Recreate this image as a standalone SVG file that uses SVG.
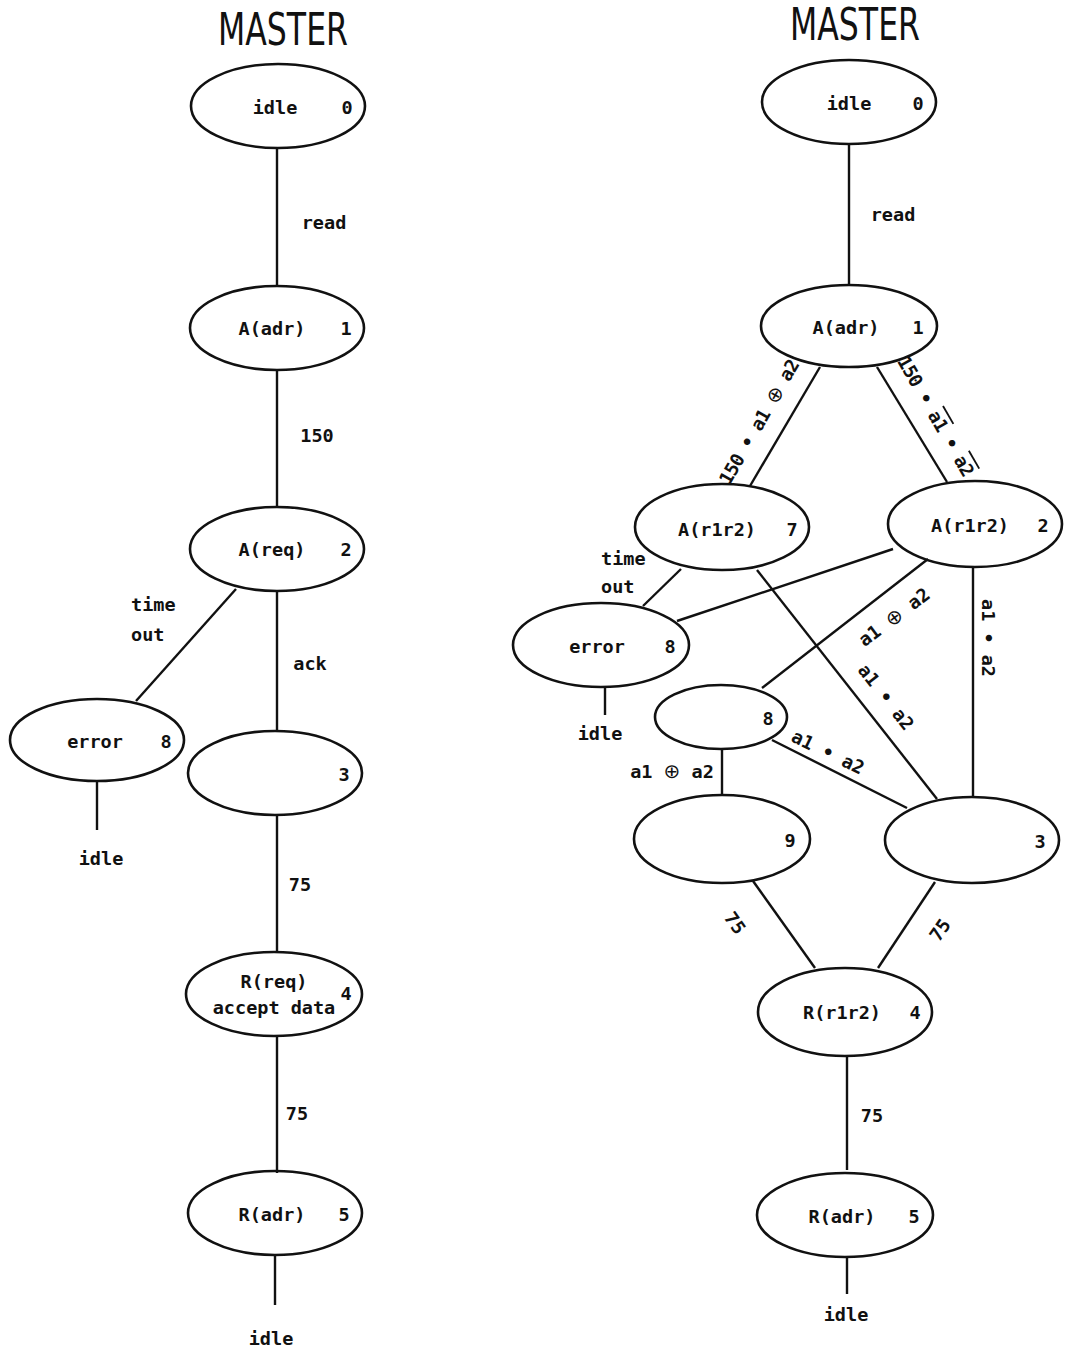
<svg xmlns="http://www.w3.org/2000/svg" width="1070" height="1355" viewBox="0 0 1070 1355">
<style>
.n{fill:none;stroke:#111;stroke-width:2.6}
.e{stroke:#111;stroke-width:2.4;fill:none}
text{font-family:"DejaVu Sans Mono","Liberation Mono",monospace;font-weight:bold;font-size:18.5px;fill:#111;dominant-baseline:central}
.c{text-anchor:middle}
.x{font-family:"DejaVu Sans",sans-serif;font-size:20px;font-weight:normal}
.r{letter-spacing:-0.8px}
.t{font-family:"DejaVu Sans Condensed","DejaVu Sans","Liberation Sans",sans-serif;font-weight:normal;font-size:44px;dominant-baseline:auto}
</style>
<rect width="1070" height="1355" fill="#fff"/>
<text class="t" x="218" y="45" textLength="130" lengthAdjust="spacingAndGlyphs">MASTER</text>
<text class="t" x="790" y="40" textLength="130" lengthAdjust="spacingAndGlyphs">MASTER</text>
<g id="connectors">
<line class="e" x1="277" y1="148" x2="277" y2="286"/>
<line class="e" x1="277" y1="370" x2="277" y2="507"/>
<line class="e" x1="236" y1="589" x2="136" y2="701"/>
<line class="e" x1="277" y1="591" x2="277" y2="731"/>
<line class="e" x1="97" y1="782" x2="97" y2="830"/>
<line class="e" x1="277" y1="815" x2="277" y2="952"/>
<line class="e" x1="277" y1="1036" x2="277" y2="1173"/>
<line class="e" x1="275" y1="1255" x2="275" y2="1305"/>
<line class="e" x1="849" y1="144" x2="849" y2="285"/>
<line class="e" x1="820" y1="367" x2="750" y2="486"/>
<line class="e" x1="877" y1="367" x2="947" y2="482"/>
<line class="e" x1="681" y1="569" x2="643" y2="606"/>
<line class="e" x1="893" y1="549" x2="677" y2="621"/>
<line class="e" x1="757" y1="570" x2="937" y2="799"/>
<line class="e" x1="928" y1="559" x2="762" y2="688"/>
<line class="e" x1="973" y1="567" x2="973" y2="797"/>
<line class="e" x1="605" y1="687" x2="605" y2="715"/>
<line class="e" x1="772" y1="740" x2="907" y2="808"/>
<line class="e" x1="722" y1="749" x2="722" y2="795"/>
<line class="e" x1="753" y1="881" x2="815" y2="968"/>
<line class="e" x1="935" y1="882" x2="878" y2="968"/>
<line class="e" x1="847" y1="1056" x2="847" y2="1170"/>
<line class="e" x1="847" y1="1257" x2="847" y2="1294"/>
<text x="324" y="222" class="c">read</text>
<text x="317" y="435" class="c">150</text>
<text x="131" y="604">time</text>
<text x="131" y="634">out</text>
<text x="310" y="663" class="c">ack</text>
<text x="101" y="858" class="c">idle</text>
<text x="300" y="884" class="c">75</text>
<text x="297" y="1113" class="c">75</text>
<text x="271" y="1338" class="c">idle</text>
<text x="893" y="214" class="c">read</text>
<text class="c r" transform="translate(759,422) rotate(-60)">150 • a1 <tspan class="x">⊕</tspan> a2</text>
<text class="c r" transform="translate(936,416) rotate(60)">150 • <tspan text-decoration="overline">a1</tspan> • <tspan text-decoration="overline">a2</tspan></text>
<text x="601" y="558">time</text>
<text x="601" y="586">out</text>
<text class="c" transform="translate(894,617) rotate(-37)">a1 <tspan class="x">⊕</tspan> a2</text>
<text class="c" transform="translate(988,638) rotate(90)">a1 • a2</text>
<text class="c" transform="translate(886,697) rotate(52)">a1 • a2</text>
<text class="c" transform="translate(828,752) rotate(26)">a1 • a2</text>
<text x="600" y="733" class="c">idle</text>
<text x="672" y="771" class="c">a1 <tspan class="x">⊕</tspan> a2</text>
<text class="c" transform="translate(735,923) rotate(55)">75</text>
<text class="c" transform="translate(940,930) rotate(-55)">75</text>
<text x="872" y="1115" class="c">75</text>
<text x="846" y="1314" class="c">idle</text>
</g>
<g id="L0"><ellipse class="n" cx="278" cy="106" rx="87" ry="42"/><text x="275" y="107" class="c">idle</text><text x="347" y="107" class="c">0</text></g>
<g id="L1"><ellipse class="n" cx="277" cy="328" rx="87" ry="42"/><text x="272" y="328" class="c">A(adr)</text><text x="346" y="328" class="c">1</text></g>
<g id="L2"><ellipse class="n" cx="277" cy="549" rx="87" ry="42"/><text x="272" y="549" class="c">A(req)</text><text x="346" y="549" class="c">2</text></g>
<g id="L8"><ellipse class="n" cx="97" cy="740" rx="87" ry="41"/><text x="95" y="741" class="c">error</text><text x="166" y="741" class="c">8</text></g>
<g id="L3"><ellipse class="n" cx="275" cy="773" rx="87" ry="42"/><text x="344" y="774" class="c">3</text></g>
<g id="L4"><ellipse class="n" cx="274" cy="994" rx="88" ry="42"/><text x="274" y="981" class="c">R(req)</text><text x="274" y="1007" class="c">accept data</text><text x="346" y="993" class="c">4</text></g>
<g id="L5"><ellipse class="n" cx="275" cy="1213" rx="87" ry="42"/><text x="272" y="1214" class="c">R(adr)</text><text x="344" y="1214" class="c">5</text></g>
<g id="R0"><ellipse class="n" cx="849" cy="102" rx="87" ry="42"/><text x="849" y="103" class="c">idle</text><text x="918" y="103" class="c">0</text></g>
<g id="R1"><ellipse class="n" cx="849" cy="326" rx="88" ry="41"/><text x="846" y="327" class="c">A(adr)</text><text x="918" y="327" class="c">1</text></g>
<g id="R7"><ellipse class="n" cx="722" cy="527" rx="87" ry="43"/><text x="717" y="529" class="c">A(r1r2)</text><text x="792" y="529" class="c">7</text></g>
<g id="R2"><ellipse class="n" cx="975" cy="524" rx="87" ry="43"/><text x="970" y="525" class="c">A(r1r2)</text><text x="1043" y="525" class="c">2</text></g>
<g id="R8"><ellipse class="n" cx="601" cy="645" rx="88" ry="42"/><text x="597" y="646" class="c">error</text><text x="670" y="646" class="c">8</text></g>
<g id="R8b"><ellipse class="n" cx="721" cy="717" rx="66" ry="32"/><text x="768" y="718" class="c">8</text></g>
<g id="R9"><ellipse class="n" cx="722" cy="839" rx="88" ry="44"/><text x="790" y="840" class="c">9</text></g>
<g id="R3"><ellipse class="n" cx="972" cy="840" rx="87" ry="43"/><text x="1040" y="841" class="c">3</text></g>
<g id="R4"><ellipse class="n" cx="845" cy="1012" rx="87" ry="44"/><text x="842" y="1012" class="c">R(r1r2)</text><text x="915" y="1012" class="c">4</text></g>
<g id="R5"><ellipse class="n" cx="845" cy="1215" rx="88" ry="42"/><text x="842" y="1216" class="c">R(adr)</text><text x="914" y="1216" class="c">5</text></g>
</svg>
